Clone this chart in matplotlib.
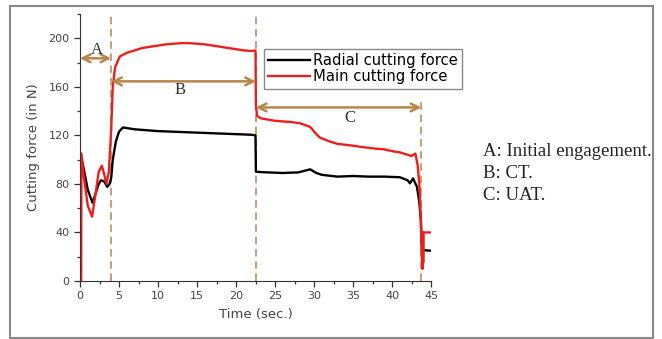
import matplotlib
matplotlib.use("Agg")
import matplotlib.pyplot as plt
from matplotlib.patches import Rectangle

# main cutting force (red)
t_main = [0.15, 0.18, 0.5, 1.0, 1.55, 2.0, 2.4, 2.8, 3.1, 3.4, 3.7, 4.0, 4.2, 4.5, 5.1,
          6, 7, 8, 9, 10, 11, 12, 13, 14, 15, 16, 17, 18, 19, 20, 21, 22, 22.5,
          22.55, 22.7, 23.2, 25, 27, 28.2, 29.5, 30.3, 30.8, 32, 33, 35, 36, 38, 39,
          40, 41, 42, 42.5, 43.0, 43.3, 43.5, 43.7, 43.8, 43.9, 43.95, 44.0, 44.05, 44.9]
f_main = [0, 105, 85, 62, 53, 72, 90, 95, 88, 80, 90, 125, 160, 176, 185,
          188, 190, 192, 193, 194, 195, 195.5, 196, 196, 195.5, 195, 194, 193, 192, 191, 190, 189.5, 190,
          145, 136, 134, 132, 131, 130, 127, 121, 118, 115, 113, 111.5, 110.5, 109, 108.5,
          107, 106, 104, 103, 105, 95, 80, 50, 25, 10, 40, 15, 40, 40]

# radial cutting force (black)
t_rad = [0.05, 0.4, 1.0, 1.6, 2.0, 2.4, 2.7, 3.1, 3.5, 3.8, 4.0, 4.2, 4.6, 5.0, 5.5,
         6, 7, 8, 9, 10, 12, 14, 16, 18, 20, 22, 22.5,
         22.55, 24, 26, 28, 29.5, 30.3, 31, 33, 35, 37, 39, 41, 42, 42.3, 42.7, 43.2,
         43.5, 43.7, 43.85, 44.9]
f_rad = [105, 95, 75, 64.5, 72, 80, 83, 82, 77.6, 80, 85, 100, 115, 123, 126.5,
         126, 125, 124.5, 124, 123.5, 123, 122.5, 122, 121.5, 121, 120.5, 120,
         90, 89.5, 89, 89.5, 92, 89, 87.5, 86, 86.5, 86, 86, 85.5, 83, 80.5, 84.5, 77.6,
         65, 50, 25.5, 25]

# stage boundaries and arrows (start, end, y, label, label x, label y)
boundaries = [4.0, 22.55, 43.75]
boundary_top = [220, 220, 151]
stages = [(0, 4.0, 183.5, "A", 2.2, 190),
          (4.0, 22.55, 164.5, "B", 12.8, 157),
          (22.55, 43.75, 143, "C", 34.6, 134)]
notes = ["A: Initial engagement.", "B: CT.", "C: UAT."]

fig = plt.figure(figsize=(6.62, 3.39), dpi=100)
ax = fig.add_axes([80/662, 1-281/339, 351/662, 267/339])

ax.plot(t_rad, f_rad, color="black", lw=1.7, label="Radial cutting force")
ax.plot(t_main, f_main, color="#ec1f1c", lw=1.7, label="Main cutting force")

brown = "#b8864b"
for xb, top in zip(boundaries, boundary_top):
    ax.plot([xb, xb], [0, top], color=brown, lw=1.1, ls=(0, (5, 3)), zorder=0.5)
for x0, x1, y, lab, lx, ly in stages:
    ax.annotate("", xy=(x0, y), xytext=(x1, y),
                arrowprops=dict(arrowstyle="<->", color=brown, lw=1.8,
                                shrinkA=0, shrinkB=0, mutation_scale=14))
    ax.text(lx, ly, lab, family="Liberation Serif", fontsize=12, color="#333333",
            ha="center", va="center")

ax.set_xlim(0, 45)
ax.set_ylim(0, 220)
ax.set_xticks(range(0, 46, 5))
ax.set_xticks([2.5 + 5*i for i in range(9)], minor=True)
ax.set_yticks([0, 40, 80, 120, 160, 200])
ax.set_yticks([20, 60, 100, 140, 180, 220], minor=True)
ax.spines["top"].set_visible(False)
ax.spines["right"].set_visible(False)
for s in ["left", "bottom"]:
    ax.spines[s].set_color("#333333")
ax.tick_params(which="major", length=4, width=0.9, colors="#333333", labelsize=8, labelcolor="#444444")
ax.tick_params(which="minor", length=2.5, width=0.9, colors="#333333")
ax.set_xlabel("Time (sec.)", fontsize=9.5, color="#444444", labelpad=5)
ax.set_ylabel("Cutting force (in N)", fontsize=9.5, color="#444444", labelpad=6)

fig.legend(loc="upper left", bbox_to_anchor=(264/662, 1-49/339), borderaxespad=0,
           fancybox=False, edgecolor="#888888", fontsize=10.6, handlelength=2.8,
           handletextpad=0.2, labelspacing=0.05, borderpad=0.3, framealpha=1)

for i, s in enumerate(notes):
    fig.text(483/662, 1-(152 + 21.5*i)/339, s, family="Liberation Serif",
             fontsize=13.5, color="#222222", va="center", ha="left")

fig.patches.append(Rectangle((10/662, 1/339), 643/662, 332/339, transform=fig.transFigure,
                             fill=False, edgecolor="#888888", lw=1.5))

fig.savefig("out.png", dpi=100)
